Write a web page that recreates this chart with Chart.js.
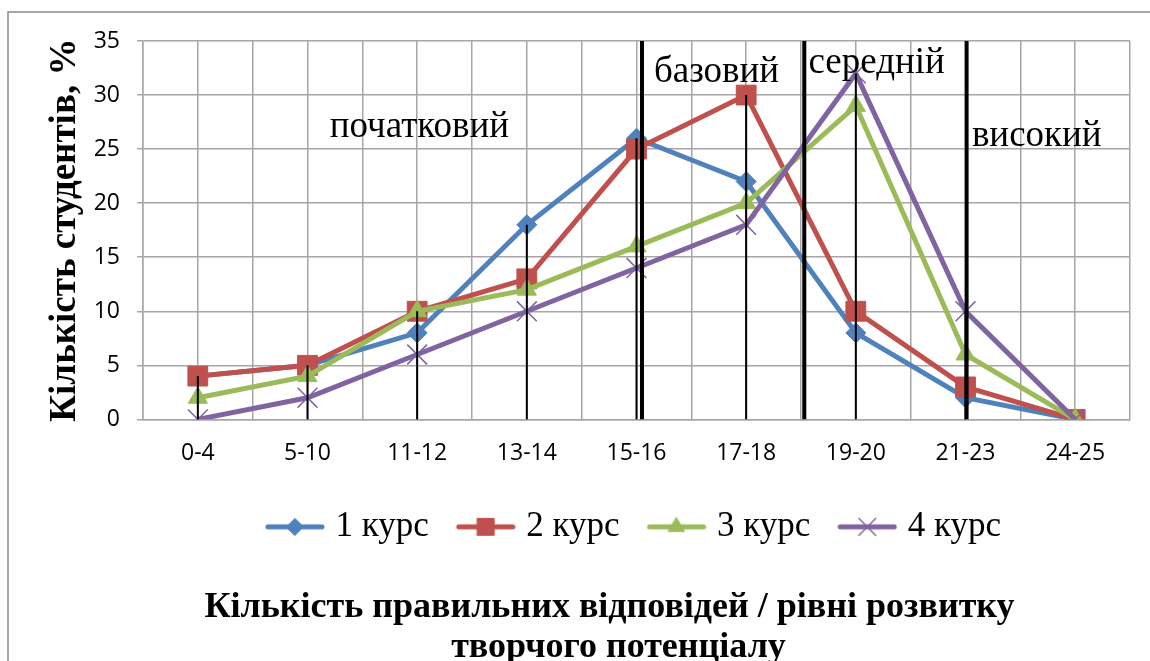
<!DOCTYPE html>
<html>
<head>
<meta charset="utf-8">
<script src="https://cdn.jsdelivr.net/npm/chart.js@4.4.1/dist/chart.umd.min.js"></script>
<style>
  html, body { margin: 0; padding: 0; background: #fff; }
  canvas { display: block; }
</style>
</head>
<body>
<canvas id="chart" width="1150" height="661"></canvas>
<script>
// ---------------- дані ----------------
const categories = ["0-4", "5-10", "11-12", "13-14", "15-16", "17-18", "19-20", "21-23", "24-25"];
const kurs1 = [4, 5, 8, 18, 26, 22, 8, 2, 0];
const kurs2 = [4, 5, 10, 13, 25, 30, 10, 3, 0];
const kurs3 = [2, 4, 10, 12, 16, 20, 29, 6, 0];
const kurs4 = [0, 2, 6, 10, 14, 18, 32, 10, 0];
const seriesNames = ["1 курс", "2 курс", "3 курс", "4 курс"];
const yMax = 35;
const yStep = 5;

// рівні розвитку: назви та межі (в одиницях осі X)
const levelNames = ["початковий", "базовий", "середній", "високий"];
const levelBorders = [4.05, 5.53, 7.01];

// ---------------- оформлення ----------------
const colors = ["#4F81BD", "#C0504D", "#9BBB59", "#8064A2"];
const markers = ["rectRot", "rect", "triangle", "crossRot"];
const markerSize = [10, 14, 11, 14];
const serif = '"Liberation Serif", "Times New Roman", serif';
const sans = '"Open Sans", "Liberation Sans", sans-serif';

const allSeries = [kurs1, kurs2, kurs3, kurs4];

// значок легенди: лінія з маркером
function legendIcon(i) {
    const c = document.createElement("canvas");
    c.width = 60; c.height = 30;
    const g = c.getContext("2d");
    g.strokeStyle = colors[i];
    g.lineWidth = 5;
    g.lineCap = "round";
    g.beginPath(); g.moveTo(3, 15); g.lineTo(57, 15); g.stroke();
    g.fillStyle = colors[i];
    g.lineWidth = markers[i] === "crossRot" ? 1.5 : 1;
    Chart.helpers.drawPoint(g, {
        pointStyle: markers[i],
        radius: markerSize[i] * 0.85,
        rotation: 0,
        borderWidth: g.lineWidth
    }, 30, 15);
    return c;
}

// рамка, лінії проекції, межі рівнів і підписи рівнів
const extras = {
    id: "extras",
    beforeDraw(chart) {
        const ctx = chart.ctx;
        ctx.save();
        ctx.fillStyle = "#fff";
        ctx.fillRect(0, 0, chart.width, chart.height);
        ctx.strokeStyle = "#8c8c8c";
        ctx.lineWidth = 1.5;
        ctx.strokeRect(8, 12, chart.width + 20, chart.height + 20);
        ctx.restore();
    },
    afterDatasetsDraw(chart) {
        const { ctx, chartArea, scales: { x, y } } = chart;
        ctx.save();
        // лінії проекції від найвищої точки до осі
        ctx.strokeStyle = "#000";
        ctx.lineWidth = 2;
        categories.forEach((c, i) => {
            const top = Math.max(...allSeries.map(s => s[i]));
            if (top <= 0) return;
            const px = x.getPixelForValue(i);
            ctx.beginPath();
            ctx.moveTo(px, y.getPixelForValue(top));
            ctx.lineTo(px, y.getPixelForValue(0));
            ctx.stroke();
        });
        // межі рівнів
        ctx.lineWidth = 4;
        levelBorders.forEach(v => {
            const px = x.getPixelForValue(v);
            ctx.beginPath();
            ctx.moveTo(px, chartArea.top);
            ctx.lineTo(px, chartArea.bottom);
            ctx.stroke();
        });
        // назви рівнів
        const spots = [[2.02, 27], [4.73, 32.1], [6.19, 32.9], [7.65, 26.2]];
        ctx.fillStyle = "#000";
        ctx.font = "37px " + serif;
        ctx.textAlign = "center";
        ctx.textBaseline = "middle";
        levelNames.forEach((t, i) => {
            ctx.fillText(t, x.getPixelForValue(spots[i][0]), y.getPixelForValue(spots[i][1]));
        });
        ctx.restore();
    }
};

const datasets = allSeries.map((s, i) => ({
    label: seriesNames[i],
    data: s.map((v, k) => ({ x: k, y: v })),
    borderColor: colors[i],
    backgroundColor: colors[i],
    borderWidth: 5,
    pointStyle: markers[i],
    pointRadius: markerSize[i],
    pointBorderWidth: markers[i] === "crossRot" ? 1.5 : 1,
    pointBorderColor: colors[i],
    pointBackgroundColor: colors[i],
    tension: 0,
    order: 4 - i
}));

new Chart(document.getElementById("chart"), {
    type: "line",
    data: { datasets: datasets },
    options: {
        responsive: false,
        devicePixelRatio: 1,
        animation: false,
        layout: { padding: { left: 8, top: 41, right: 19, bottom: 0 } },
        scales: {
            x: {
                type: "linear",
                min: -0.5,
                max: categories.length - 0.5,
                afterFit(scale) { scale.height = 56; },
                grid: { color: "#a6a6a6", lineWidth: 1.5, drawTicks: false },
                border: { color: "#a6a6a6", width: 1.5 },
                ticks: {
                    stepSize: 0.5,
                    autoSkip: false,
                    maxRotation: 0,
                    padding: 20,
                    color: "#000",
                    font: { family: sans, size: 23 },
                    callback(v) {
                        const r = Math.round(v);
                        return Math.abs(v - r) < 1e-6 ? categories[r] : "";
                    }
                }
            },
            y: {
                min: 0,
                max: yMax,
                afterFit(scale) { scale.width = 135; },
                grid: { color: "#a6a6a6", lineWidth: 1.5, tickLength: 6 },
                border: { color: "#a6a6a6", width: 1.5 },
                ticks: {
                    stepSize: yStep,
                    padding: 17,
                    color: "#000",
                    font: { family: sans, size: 23 }
                },
                title: {
                    display: true,
                    text: "Кількість студентів, %",
                    color: "#000",
                    font: { family: serif, size: 37, weight: "bold" },
                    padding: { top: 35, bottom: 0 }
                }
            }
        },
        plugins: {
            tooltip: { enabled: false },
            legend: {
                position: "bottom",
                fullSize: false,
                labels: {
                    color: "#000",
                    font: { family: serif, size: 35 },
                    padding: 34,
                    usePointStyle: true,
                    pointStyleWidth: 46,
                    generateLabels(chart) {
                        return chart.data.datasets.map((d, i) => ({
                            text: d.label,
                            pointStyle: legendIcon(i),
                            fillStyle: colors[i],
                            strokeStyle: colors[i],
                            lineWidth: 0,
                            fontColor: "#000",
                            datasetIndex: i
                        }));
                    }
                }
            },
            title: {
                display: true,
                position: "bottom",
                fullSize: false,
                text: ["Кількість правильних відповідей / рівні розвитку      ", "творчого потенціалу    "],
                color: "#000",
                font: { family: serif, size: 36, weight: "bold", lineHeight: 1.12 },
                padding: { top: 33, bottom: -7 }
            }
        }
    },
    plugins: [extras]
});
</script>
</body>
</html>
